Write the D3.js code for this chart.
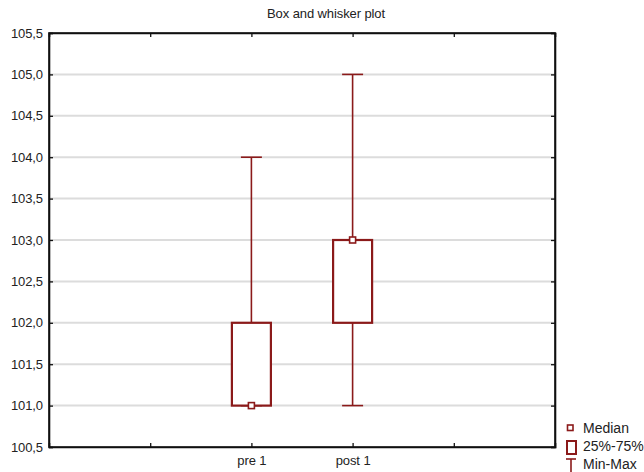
<!DOCTYPE html>
<html>
<head>
<meta charset="utf-8">
<script src="https://cdn.jsdelivr.net/npm/d3@7.9.0/dist/d3.min.js"></script>
<style>
  body { margin: 0; background: #fff; }
  svg { display: block; font-family: "Liberation Sans", Arial, sans-serif; }
</style>
</head>
<body>
<div id="chart"></div>
<script>
// Data
const categories = ['pre 1', 'post 1'];
const mins    = [101, 101];
const q1s     = [101, 102];
const medians = [101, 103];
const q3s     = [102, 103];
const maxs    = [104, 105];
const yTicks = [100.5, 101, 101.5, 102, 102.5, 103, 103.5, 104, 104.5, 105, 105.5];
const xTickPos = [1, 2, 3, 4];
const legendLabels = ['Median', '25%-75%', 'Min-Max'];

const width = 644, height = 472;
const margin = { top: 33, right: 89, bottom: 25, left: 49 };
const color = '#8b1a1a';

const svg = d3.select('#chart').append('svg')
    .attr('width', width).attr('height', height);

const x = d3.scaleLinear().domain([0, 5]).range([margin.left, width - margin.right]);
const y = d3.scaleLinear().domain([100.5, 105.5]).range([height - margin.bottom, margin.top]);
const fmt = d3.format('.1f');

// title
svg.append('text')
    .attr('x', 326).attr('y', 18)
    .attr('text-anchor', 'middle')
    .attr('font-size', 13).attr('letter-spacing', -0.1)
    .attr('fill', '#222')
    .text('Box and whisker plot');

// gridlines
svg.append('g').selectAll('line')
    .data(yTicks.slice(1, -1))
    .join('line')
    .attr('x1', x(0)).attr('x2', x(5))
    .attr('y1', d => y(d)).attr('y2', d => y(d))
    .attr('stroke', '#dcdcdc').attr('stroke-width', 2);

// axes (inward ticks)
const tick = 4;
const yAxisL = svg.append('g').attr('transform', `translate(${x(0)},0)`)
    .call(d3.axisLeft(y).tickValues(yTicks).tickSize(-tick).tickPadding(6)
        .tickFormat(d => fmt(d).replace('.', ',')));
const yAxisR = svg.append('g').attr('transform', `translate(${x(5)},0)`)
    .call(d3.axisRight(y).tickValues(yTicks).tickSize(-tick).tickFormat(''));
const xAxisB = svg.append('g').attr('transform', `translate(0,${y(100.5)})`)
    .call(d3.axisBottom(x).tickValues(xTickPos).tickSize(-tick).tickPadding(9)
        .tickFormat(d => categories[d - 2] || ''));
const xAxisT = svg.append('g').attr('transform', `translate(0,${y(105.5)})`)
    .call(d3.axisTop(x).tickValues(xTickPos).tickSize(-tick).tickFormat(''));

[yAxisL, yAxisR, xAxisB, xAxisT].forEach(g => {
    g.select('.domain').attr('stroke', '#111').attr('stroke-width', 1.6);
    g.selectAll('.tick line').attr('stroke', '#111').attr('stroke-width', 1.3);
    g.selectAll('text').attr('fill', '#222').attr('font-size', 13)
        .attr('letter-spacing', -0.1);
});
// close frame corners
svg.append('rect')
    .attr('x', x(0)).attr('y', y(105.5))
    .attr('width', x(5) - x(0)).attr('height', y(100.5) - y(105.5))
    .attr('fill', 'none').attr('stroke', '#111').attr('stroke-width', 1.6);

// boxes
const boxW = 39, capW = 21, medS = 6;
const boxes = svg.append('g').selectAll('g')
    .data(categories.map((c, i) => ({ c, i, pos: i + 2 })))
    .join('g');

boxes.append('line')
    .attr('x1', d => x(d.pos)).attr('x2', d => x(d.pos))
    .attr('y1', d => y(maxs[d.i])).attr('y2', d => y(mins[d.i]))
    .attr('stroke', color).attr('stroke-width', 1.6);
boxes.append('line')
    .attr('x1', d => x(d.pos) - capW / 2).attr('x2', d => x(d.pos) + capW / 2)
    .attr('y1', d => y(maxs[d.i])).attr('y2', d => y(maxs[d.i]))
    .attr('stroke', color).attr('stroke-width', 1.6);
boxes.append('line')
    .attr('x1', d => x(d.pos) - capW / 2).attr('x2', d => x(d.pos) + capW / 2)
    .attr('y1', d => y(mins[d.i])).attr('y2', d => y(mins[d.i]))
    .attr('stroke', color).attr('stroke-width', 1.6);
boxes.append('rect')
    .attr('x', d => x(d.pos) - boxW / 2)
    .attr('y', d => y(q3s[d.i]))
    .attr('width', boxW)
    .attr('height', d => y(q1s[d.i]) - y(q3s[d.i]))
    .attr('fill', '#fff').attr('stroke', color).attr('stroke-width', 2.2);
boxes.append('rect')
    .attr('x', d => x(d.pos) - medS / 2)
    .attr('y', d => y(medians[d.i]) - medS / 2)
    .attr('width', medS).attr('height', medS)
    .attr('fill', '#fff').attr('stroke', color).attr('stroke-width', 1.6);

// legend
const lg = svg.append('g').attr('transform', 'translate(566,0)');
lg.append('rect').attr('x', 1.5).attr('y', 425).attr('width', 5.5).attr('height', 5.5)
    .attr('fill', '#fff').attr('stroke', color).attr('stroke-width', 1.6);
lg.append('rect').attr('x', 1).attr('y', 441).attr('width', 9).attr('height', 13)
    .attr('fill', '#fff').attr('stroke', color).attr('stroke-width', 2);
lg.append('line').attr('x1', 0).attr('x2', 10).attr('y1', 459).attr('y2', 459)
    .attr('stroke', color).attr('stroke-width', 1.6);
lg.append('line').attr('x1', 5).attr('x2', 5).attr('y1', 459).attr('y2', 472)
    .attr('stroke', color).attr('stroke-width', 1.6);
lg.selectAll('text').data(legendLabels).join('text')
    .attr('x', 17).attr('y', (d, i) => 433 + i * 18)
    .attr('font-size', 14).attr('fill', '#222')
    .text(d => d);
</script>
</body>
</html>
